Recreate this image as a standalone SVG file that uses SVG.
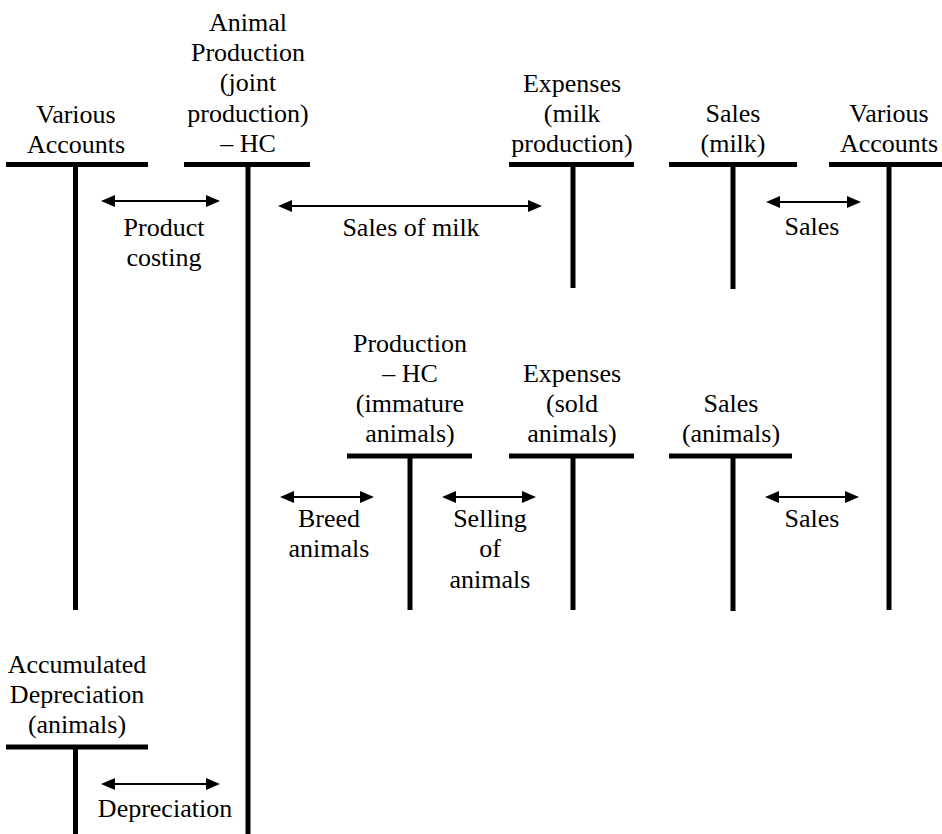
<svg xmlns="http://www.w3.org/2000/svg" width="942" height="834" viewBox="0 0 942 834" font-family="'Times New Roman', 'Liberation Serif', 'Noto Serif', 'DejaVu Serif', Times, serif">
<style>
.bar{stroke:#000;stroke-width:5;fill:none}
.arr{stroke:#000;stroke-width:2;fill:none;marker-start:url(#ah);marker-end:url(#ah)}
text{font-family:'Times New Roman','Liberation Serif','Noto Serif','DejaVu Serif',Times,serif;font-size:26px;fill:#000;text-anchor:middle}
</style>
<defs>
<marker id="ah" markerUnits="userSpaceOnUse" markerWidth="16" markerHeight="14" viewBox="0 0 16 14" refX="4" refY="7" orient="auto-start-reverse">
<path d="M0,1 L14,7 L0,13 z" fill="#000"/>
</marker>
</defs>
<rect width="942" height="834" fill="#fff"/>
<g id="various-accounts-left">
<path class="bar" d="M6,164.5H148M75.5,164.5V610"/>
<text x="76" y="123">Various</text><text x="76" y="153">Accounts</text>
</g>
<g id="animal-production">
<path class="bar" d="M184,164.5H310M248,164.5V834"/>
<text x="248" y="31">Animal</text><text x="248" y="61">Production</text><text x="248" y="91">(joint</text><text x="248" y="122">production)</text><text x="248" y="152">– HC</text>
</g>
<g id="expenses-milk">
<path class="bar" d="M509,164.5H634M573,164.5V288"/>
<text x="572" y="92">Expenses</text><text x="572" y="122">(milk</text><text x="572" y="152">production)</text>
</g>
<g id="sales-milk">
<path class="bar" d="M669,164.5H797M733,164.5V289"/>
<text x="733" y="122">Sales</text><text x="733" y="152">(milk)</text>
</g>
<g id="various-accounts-right">
<path class="bar" d="M829,164.5H942M889,164.5V610"/>
<text x="889" y="122">Various</text><text x="889" y="152">Accounts</text>
</g>
<g id="production-hc-immature">
<path class="bar" d="M347,456H472M410,456V610"/>
<text x="410" y="352">Production</text><text x="410" y="382">– HC</text><text x="410" y="412">(immature</text><text x="410" y="442">animals)</text>
</g>
<g id="expenses-sold">
<path class="bar" d="M509,456H634M573,456V610"/>
<text x="572" y="382">Expenses</text><text x="572" y="412">(sold</text><text x="572" y="442">animals)</text>
</g>
<g id="sales-animals">
<path class="bar" d="M669,456H792M733,456V611"/>
<text x="731" y="412">Sales</text><text x="731" y="442">(animals)</text>
</g>
<g id="accumulated-depreciation">
<path class="bar" d="M6,747H148M75.5,747V834"/>
<text x="77" y="673">Accumulated</text><text x="77" y="703">Depreciation</text><text x="77" y="733">(animals)</text>
</g>
<g id="connectors">
<line class="arr" x1="111" y1="201" x2="210" y2="201"/>
<line class="arr" x1="288" y1="206" x2="532" y2="206"/>
<line class="arr" x1="776" y1="202" x2="851" y2="202"/>
<line class="arr" x1="290" y1="497" x2="364" y2="497"/>
<line class="arr" x1="452" y1="497" x2="526" y2="497"/>
<line class="arr" x1="775" y1="497" x2="849" y2="497"/>
<line class="arr" x1="111" y1="784" x2="210" y2="784"/>
<text x="164" y="236">Product</text><text x="164" y="266">costing</text>
<text x="411" y="236">Sales of milk</text>
<text x="812" y="235">Sales</text>
<text x="329" y="527">Breed</text><text x="329" y="557">animals</text>
<text x="490" y="527">Selling</text><text x="490" y="557">of</text><text x="490" y="588">animals</text>
<text x="812" y="527">Sales</text>
<text x="165" y="817">Depreciation</text>
</g>
</svg>
